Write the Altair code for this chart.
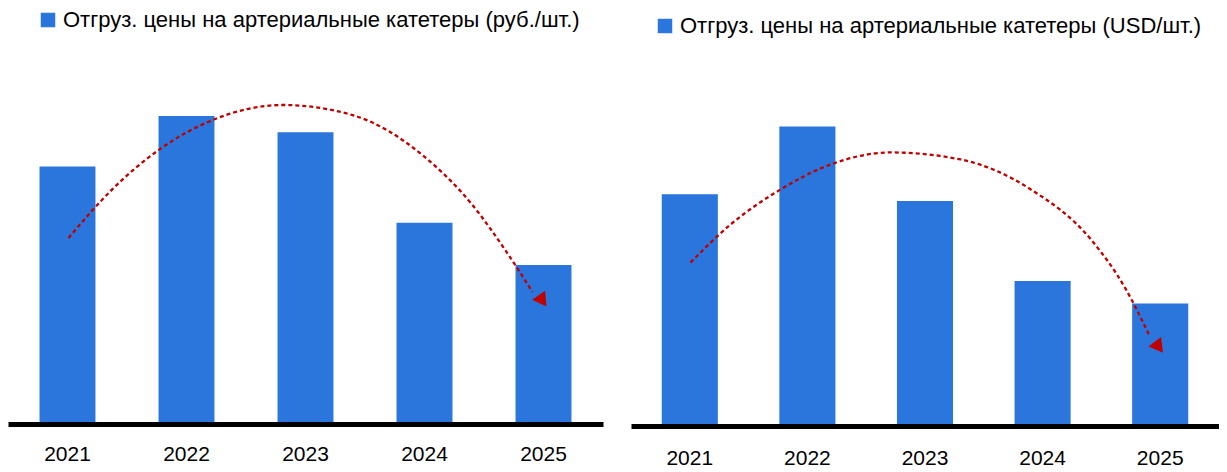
import altair as alt
import pandas as pd

BLUE = "#2A76DD"
RED = "#C00000"
FONT = "Liberation Sans"

years = ["2021", "2022", "2023", "2024", "2025"]
rub_values = [1280, 1530, 1450, 1000, 790]
usd_values = [17.4, 22.5, 16.9, 10.9, 9.2]
legend_rub = "Отгруз. цены на артериальные катетеры (руб./шт.)"
legend_usd = "Отгруз. цены на артериальные катетеры (USD/шт.)"

# trend-arrow anchors: x in year-index units (0..5), y in value units
rub_arrow_x = [0.508, 0.878, 1.265, 1.718, 2.307, 2.895, 3.483, 3.903, 4.189, 4.408]
rub_arrow_y = [924, 1167, 1361, 1510, 1585, 1535, 1336, 1088, 855, 656]
usd_arrow_x = [0.506, 0.847, 1.272, 1.698, 2.209, 2.804, 3.400, 3.911, 4.209, 4.404]
usd_arrow_y = [12.28, 15.14, 17.77, 19.65, 20.55, 20.02, 17.77, 14.01, 10.26, 6.87]
rub_head = [4.481, 621, 145]
usd_head = [4.477, 6.05, 143]


def panel(values, label, ymax, width, height, ax, ay, head, lx, ly, lpad, pin):
    df = pd.DataFrame({"year": years, "value": values, "series": [label] * len(years)})
    yscale = alt.Scale(domain=[0, ymax], nice=False, zero=True)
    bars = alt.Chart(df).mark_bar().encode(
        x=alt.X(
            "year:N", sort=years, title=None,
            scale=alt.Scale(paddingInner=pin, paddingOuter=pin / 2),
            axis=alt.Axis(labelAngle=0, domainWidth=5, domainColor="black", ticks=False,
                          labelFontSize=21, labelFont=FONT, labelPadding=lpad,
                          labelColor="black", grid=False, zindex=1),
        ),
        y=alt.Y("value:Q", scale=yscale, axis=None),
        color=alt.Color(
            "series:N", scale=alt.Scale(range=[BLUE]),
            legend=alt.Legend(title=None, orient="none", legendX=lx, legendY=ly,
                              symbolType="square", symbolSize=210, symbolStrokeWidth=0,
                              symbolFillColor=BLUE, labelFontSize=22, labelFont=FONT,
                              labelColor="black", labelLimit=0, padding=0, labelOffset=4),
        ),
    )
    adf = pd.DataFrame({"u": ax, "v": ay, "order": list(range(len(ax)))})
    xs = alt.Scale(domain=[0, 5], nice=False, zero=False)
    line = alt.Chart(adf).mark_line(
        color=RED, strokeWidth=2.3, strokeDash=[4, 3], interpolate="monotone"
    ).encode(
        x=alt.X("u:Q", scale=xs, axis=None),
        y=alt.Y("v:Q", scale=yscale, axis=None),
        order="order:Q",
    )
    hdf = pd.DataFrame({"u": [head[0]], "v": [head[1]]})
    tip = alt.Chart(hdf).mark_point(
        shape="triangle", filled=True, size=250, color=RED, opacity=1, angle=head[2]
    ).encode(
        x=alt.X("u:Q", scale=xs, axis=None),
        y=alt.Y("v:Q", scale=yscale, axis=None),
    )
    return alt.layer(bars, line, tip).resolve_scale(x="independent").properties(
        width=width, height=height
    )


left = panel(rub_values, legend_rub, 2067, 595, 416, rub_arrow_x, rub_arrow_y, rub_head,
             29, 1, 19, 0.53)
right = panel(usd_values, legend_usd, 31.4, 588, 418, usd_arrow_x, usd_arrow_y, usd_head,
              23, 7, 21, 0.523)

chart = alt.hconcat(left, right, spacing=28).resolve_scale(color="independent").properties(
    padding={"left": 0, "top": 0, "right": 0, "bottom": 0}
).configure(font=FONT).configure_view(stroke=None)

chart.save("out.html", embed_options={"renderer": "svg", "actions": False})
